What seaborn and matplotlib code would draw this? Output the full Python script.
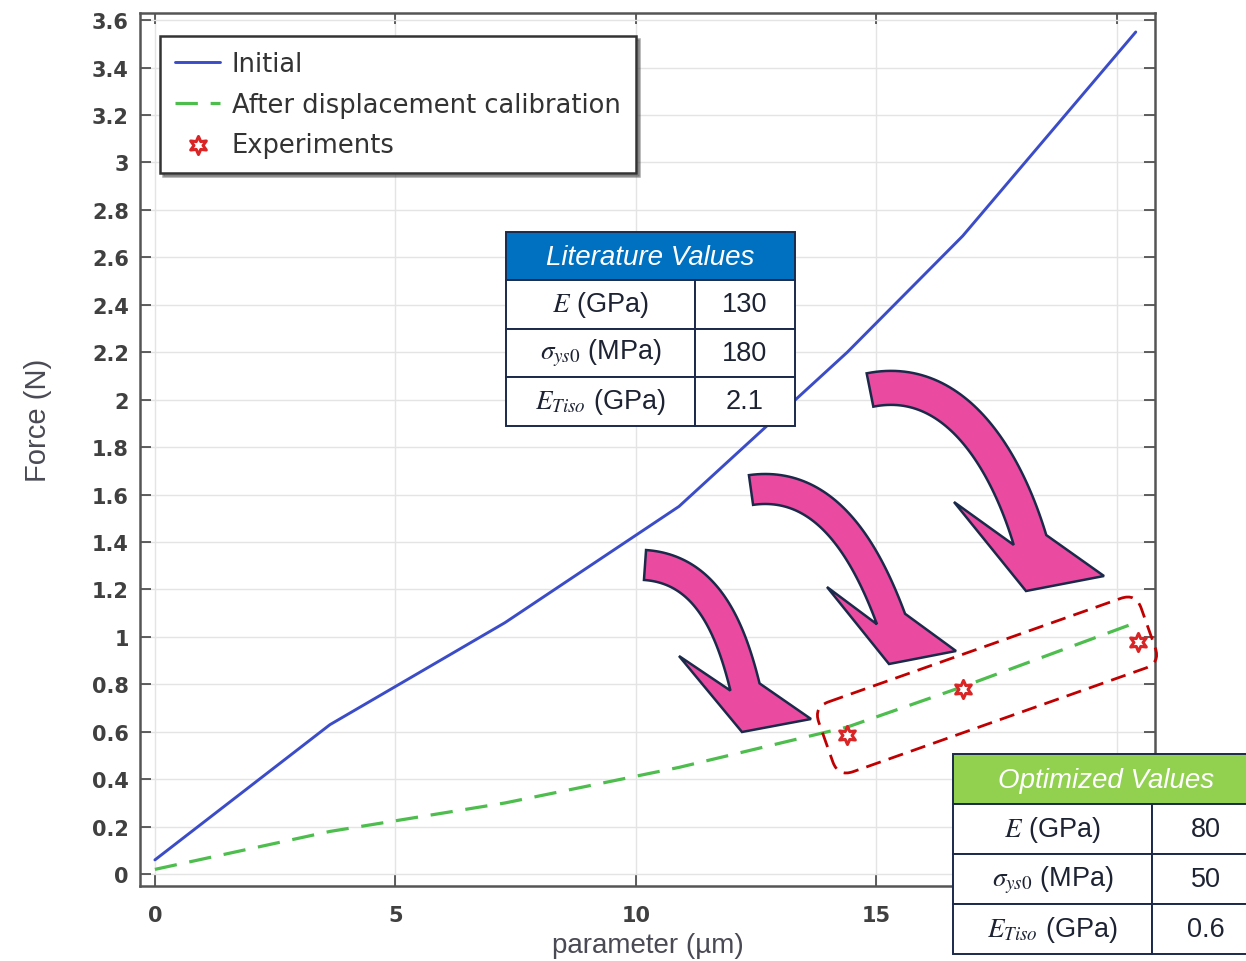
import numpy as np
import matplotlib
matplotlib.use("Agg")
import matplotlib.pyplot as plt
import seaborn as sns
from matplotlib.patches import Rectangle, Polygon, FancyBboxPatch
from matplotlib.transforms import Affine2D

# ── Data ─────────────────────────────────────────────────────────────────────
param_um         = [0, 3.64, 7.28, 10.9, 14.4, 16.8, 20.4]
force_initial    = [0.06, 0.63, 1.06, 1.55, 2.20, 2.69, 3.55]
force_calibrated = [0.02, 0.18, 0.30, 0.45, 0.62, 0.79, 1.06]
exp_param        = [14.4, 16.8, 20.45]
exp_force        = [0.585, 0.78, 0.98]

y_ticks  = [round(0.2 * i, 1) for i in range(19)]
x_ticks  = [0, 5, 10, 15, 20]
x_tick_labels = ['0', '5', '10', '15', '']   # "20" sits under the table

param_labels = [r'$E$ (GPa)', r'$\sigma_{ys0}$ (MPa)', r'$E_{Tiso}$ (GPa)']
lit_values   = ['130', '180', '2.1']
opt_values   = ['80', '50', '0.6']

# ── Style ────────────────────────────────────────────────────────────────────
sns.set_style('ticks')
plt.rcParams['font.family'] = ['DejaVu Sans']
plt.rcParams['mathtext.fontset'] = 'stix'

W, H = 1246, 962
fig = plt.figure(figsize=(W / 100, H / 100), dpi=100)
ax = fig.add_axes([140 / W, 1 - 887 / H, (1155 - 140) / W, (887 - 14) / H])
# pixel coords of the picture (origin top-left) -> figure
pxT = Affine2D().scale(1 / W, -1 / H).translate(0, 1) + fig.transFigure

BLUE, GREEN, RED = '#3B4CC8', '#4DBD4D', '#D92525'
NAVY, PINK = '#1B2A4A', '#EA4AA0'

# ── Curves ───────────────────────────────────────────────────────────────────
sns.lineplot(x=param_um, y=force_initial, color=BLUE, lw=2.1,
             label='Initial', ax=ax, sort=False)
sns.lineplot(x=param_um, y=force_calibrated, color=GREEN, lw=2.3,
             label='After displacement calibration', ax=ax, sort=False)
ax.get_lines()[1].set_dashes((7, 4))
sns.scatterplot(x=exp_param, y=exp_force, marker=(6, 1, 0), s=170,
                facecolor='white', edgecolor=RED, linewidth=2.2,
                label='Experiments', ax=ax, zorder=5)

ax.set_xlim(-0.31, 20.8)
ax.set_ylim(-0.05, 3.63)
ax.set_xticks(x_ticks)
ax.set_yticks(y_ticks)
ax.set_xticklabels(x_tick_labels)
ax.set_yticklabels([f'{v:g}' for v in y_ticks])
ax.tick_params(direction='in', length=8, width=1.2, color='#444',
               top=True, right=True, labelsize=15, labelcolor='#404040')
ax.tick_params(axis='y', pad=8)
ax.tick_params(axis='x', pad=14)
for lab in ax.get_xticklabels() + ax.get_yticklabels():
    lab.set_fontweight('bold')
ax.grid(True, color='#e4e4e4', lw=1.0)
for sp in ax.spines.values():
    sp.set_color('#555')
    sp.set_linewidth(1.8)

ax.set_xlabel('parameter (µm)', fontsize=20, color='#4a4a55',
              family='Liberation Sans', labelpad=5)
ax.set_ylabel('Force (N)', fontsize=21, color='#4a4a55',
              family='Liberation Sans')
ax.yaxis.set_label_coords(-0.087, 0.534)

leg = ax.legend(loc='upper left', bbox_to_anchor=(0.0197, 0.9737),
                borderaxespad=0, fontsize=18.5, frameon=True, fancybox=False,
                shadow=True, handlelength=1.75, handletextpad=0.45,
                labelspacing=0.55, borderpad=0.6)
leg.get_frame().set_edgecolor('#333')
leg.get_frame().set_linewidth(1.8)
for t in leg.get_texts():
    t.set_color('#333')


# ── Curved arrows (pixel layout) ─────────────────────────────────────────────
def curved_arrow(S, T0, E, T1, w, wing_in, tip, wing_out):
    S, E = np.array(S, float), np.array(E, float)
    T0 = np.array(T0, float) / np.hypot(*T0)
    T1 = np.array(T1, float) / np.hypot(*T1)
    k = 0.39 * np.hypot(*(E - S))
    P = [S, S + k * T0, E - k * T1, E]
    t = np.linspace(0, 1, 60)[:, None]
    B = ((1 - t) ** 3 * P[0] + 3 * (1 - t) ** 2 * t * P[1]
         + 3 * (1 - t) * t ** 2 * P[2] + t ** 3 * P[3])
    D = (3 * (1 - t) ** 2 * (P[1] - P[0]) + 6 * (1 - t) * t * (P[2] - P[1])
         + 3 * t ** 2 * (P[3] - P[2]))
    D = D / np.hypot(D[:, 0], D[:, 1])[:, None]
    N = np.column_stack([-D[:, 1], D[:, 0]])
    inner = B + w / 2 * N
    outer = B - w / 2 * N
    pts = np.vstack([inner, [wing_in, tip, wing_out], outer[::-1]])
    fig.add_artist(Polygon(pts, closed=True, transform=pxT, fc=PINK,
                           ec=NAVY, lw=1.8, joinstyle='miter', zorder=4))


curved_arrow((645, 566), (1, 0.07), (745, 688), (0.24, 0.97), 30,
             (679, 657), (742, 733), (811, 720))
curved_arrow((751, 491), (1, -0.14), (891, 620), (0.35, 0.94), 30,
             (827, 588), (889, 665), (956, 652))
curved_arrow((870, 391), (1, -0.2), (1030, 541), (0.29, 0.96), 34,
             (954, 503), (1026, 592), (1104, 577))

# ── Dashed box around the experiments ────────────────────────────────────────
cx, cy, bw, bh = 987, 686, 342, 74
box = FancyBboxPatch((cx - bw / 2, cy - bh / 2), bw, bh,
                     boxstyle='round,pad=0,rounding_size=16',
                     fc='none', ec='#C00000', lw=2.0, ls=(0, (5.5, 3)),
                     transform=Affine2D().rotate_deg_around(cx, cy, -19.5) + pxT,
                     zorder=5)
fig.add_artist(box)


# ── Parameter tables ─────────────────────────────────────────────────────────
def draw_table(x0, x1, xs, y0, head_h, row_h, title, head_color, values):
    fig.add_artist(Rectangle((x0, y0), x1 - x0, head_h, transform=pxT,
                             fc=head_color, ec=NAVY, lw=1.4, zorder=6))
    fig.text((x0 + x1) / 2, y0 + head_h / 2 + 1, title, transform=pxT,
             ha='center', va='center', color='white', style='italic',
             fontsize=20, family='Liberation Sans', zorder=7)
    for i, (lab, val) in enumerate(zip(param_labels, values)):
        yt = y0 + head_h + i * row_h
        fig.add_artist(Rectangle((x0, yt), xs - x0, row_h, transform=pxT,
                                 fc='white', ec=NAVY, lw=1.4, zorder=6))
        fig.add_artist(Rectangle((xs, yt), x1 - xs, row_h, transform=pxT,
                                 fc='white', ec=NAVY, lw=1.4, zorder=6))
        fig.text((x0 + xs) / 2, yt + row_h / 2, lab, transform=pxT,
                 ha='center', va='center', color='#1d2333', fontsize=19.5,
                 family='Liberation Sans', zorder=7)
        fig.text((xs + x1) / 2, yt + row_h / 2, val, transform=pxT,
                 ha='center', va='center', color='#1d2333', fontsize=19.5,
                 family='Liberation Sans', zorder=7)


draw_table(506, 795, 695, 233, 48, 48.5, 'Literature Values', '#0070C0', lit_values)
draw_table(953, 1260, 1152, 755, 50, 50, 'Optimized Values', '#92D050', opt_values)

fig.savefig('out.png', dpi=100, facecolor='white')
